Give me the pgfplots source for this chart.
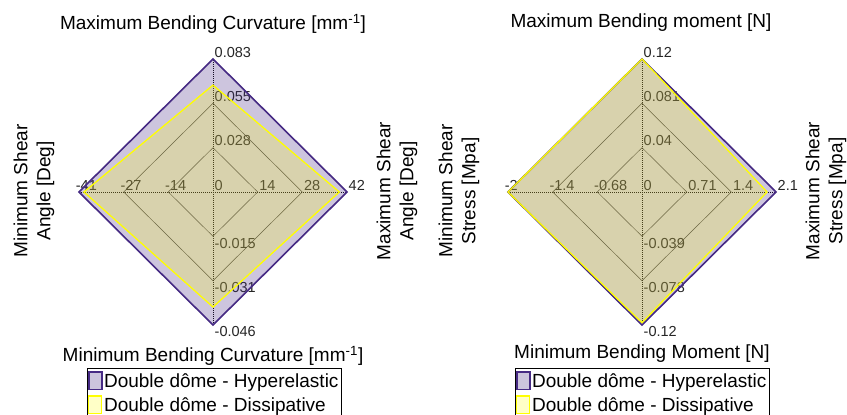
\documentclass[border=0pt]{standalone}
\usepackage{fontspec}
\setmainfont{Liberation Sans}
\usepackage{pgfplots}
\pgfplotsset{compat=1.18}
\usepackage{pgfplotstable}

\definecolor{hyp}{RGB}{70,42,132}
\definecolor{dis}{RGB}{255,255,0}

% Bending curvature / shear angle chart: direction, value, axis limit
\pgfplotstableread{
dx dy val lim
0 1 0.083 0.083
1 0 42 42
0 -1 -0.046 -0.046
-1 0 -41 -41
0 1 0.083 0.083
}\curvHyp
\pgfplotstableread{
dx dy val lim
0 1 0.0667 0.083
1 0 39.6 42
0 -1 -0.0398 -0.046
-1 0 -39.5 -41
0 1 0.0667 0.083
}\curvDis
% Bending moment / shear stress chart
\pgfplotstableread{
dx dy val lim
0 1 0.12 0.12
1 0 2.1 2.1
0 -1 -0.12 -0.12
-1 0 -2 -2
0 1 0.12 0.12
}\momHyp
\pgfplotstableread{
dx dy val lim
0 1 0.12 0.12
1 0 1.96 2.1
0 -1 -0.118 -0.12
-1 0 -2 -2
0 1 0.12 0.12
}\momDis

\newcommand{\tickfont}{\fontsize{14.5}{17}\selectfont}
\newcommand{\labfont}{\fontsize{19}{23}\selectfont}

\tikzset{
  ring/.style={black!75, line width=0.5pt},
  spoke/.style={black, line width=0.8pt, dash pattern=on 1pt off 1pt},
  tl/.style={font=\tickfont, text=black!85, inner sep=1.5pt},
}
\pgfplotsset{
  radar/.style={
    anchor=center, x=134pt, y=133pt,
    xmin=-1.25, xmax=1.25, ymin=-1.25, ymax=1.25,
    hide axis, clip=false,
    legend cell align=left,
    legend image code/.code={\draw[##1] (0pt,-8pt) rectangle (13pt,9.5pt);},
    legend style={anchor=north, draw=black, line width=0.8pt, font=\labfont,
      inner xsep=1pt, inner ysep=3pt, row sep=5pt,
      nodes={inner xsep=1.5pt, inner ysep=0pt}},
  },
  hypstyle/.style={draw=hyp, line width=1.6pt, fill=hyp, fill opacity=0.27, draw opacity=1},
  disstyle/.style={draw=dis, line width=1.3pt, fill=dis, fill opacity=0.22, draw opacity=1},
}

\begin{document}
\begin{tikzpicture}
\useasboundingbox (0,0) rectangle (847pt,415pt);

% ---------------- left chart ----------------
\begin{axis}[radar, at={(213pt,223pt)}, legend style={at={(0.503,-0.029)}}]
  \pgfplotsinvokeforeach{0.3333,0.6667,1}{
    \draw[ring] (axis cs:0,#1) -- (axis cs:#1,0) -- (axis cs:0,-#1) -- (axis cs:-#1,0) -- cycle;
  }
  \draw[spoke] (axis cs:-1,0) -- (axis cs:1,0);
  \draw[spoke] (axis cs:0,-1) -- (axis cs:0,1);
  \node[tl, anchor=south west] at (axis cs:0,0.3333) {0.028};
  \node[tl, anchor=south west] at (axis cs:0,0.6667) {0.055};
  \node[tl, anchor=south west] at (axis cs:0,1) {0.083};
  \node[tl, anchor=north west] at (axis cs:0,-0.3333) {-0.015};
  \node[tl, anchor=north west] at (axis cs:0,-0.6667) {-0.031};
  \node[tl, anchor=north west] at (axis cs:0,-1) {-0.046};
  \node[tl, anchor=south west] at (axis cs:0,0) {0};
  \node[tl, anchor=south west] at (axis cs:0.3333,0) {14};
  \node[tl, anchor=south west] at (axis cs:0.6667,0) {28};
  \node[tl, anchor=south west] at (axis cs:1,0) {42};
  \node[tl, anchor=south west] at (axis cs:-0.3333,0) {\llap{-}14};
  \node[tl, anchor=south west] at (axis cs:-0.6667,0) {\llap{-}27};
  \node[tl, anchor=south west] at (axis cs:-1,0) {\llap{-}41};
  \addplot[hypstyle] table[x expr=\thisrow{dx}*\thisrow{val}/\thisrow{lim}, y expr=\thisrow{dy}*\thisrow{val}/\thisrow{lim}] {\curvHyp} -- cycle;
  \addlegendentry{Double dôme - Hyperelastic}
  \addplot[disstyle] table[x expr=\thisrow{dx}*\thisrow{val}/\thisrow{lim}, y expr=\thisrow{dy}*\thisrow{val}/\thisrow{lim}] {\curvDis} -- cycle;
  \addlegendentry{Double dôme - Dissipative}
\end{axis}

% ---------------- right chart ----------------
\begin{axis}[radar, at={(642pt,223pt)}, legend style={at={(0.5,-0.029)}}]
  \pgfplotsinvokeforeach{0.3333,0.6667,1}{
    \draw[ring] (axis cs:0,#1) -- (axis cs:#1,0) -- (axis cs:0,-#1) -- (axis cs:-#1,0) -- cycle;
  }
  \draw[spoke] (axis cs:-1,0) -- (axis cs:1,0);
  \draw[spoke] (axis cs:0,-1) -- (axis cs:0,1);
  \node[tl, anchor=south west] at (axis cs:0,0.3333) {0.04};
  \node[tl, anchor=south west] at (axis cs:0,0.6667) {0.081};
  \node[tl, anchor=south west] at (axis cs:0,1) {0.12};
  \node[tl, anchor=north west] at (axis cs:0,-0.3333) {-0.039};
  \node[tl, anchor=north west] at (axis cs:0,-0.6667) {-0.078};
  \node[tl, anchor=north west] at (axis cs:0,-1) {-0.12};
  \node[tl, anchor=south west] at (axis cs:0,0) {0};
  \node[tl, anchor=south west] at (axis cs:0.3333,0) {0.71};
  \node[tl, anchor=south west] at (axis cs:0.6667,0) {1.4};
  \node[tl, anchor=south west] at (axis cs:1,0) {2.1};
  \node[tl, anchor=south west] at (axis cs:-0.3333,0) {\llap{-}0.68};
  \node[tl, anchor=south west] at (axis cs:-0.6667,0) {\llap{-}1.4};
  \node[tl, anchor=south west] at (axis cs:-1,0) {\llap{-}2};
  \addplot[hypstyle] table[x expr=\thisrow{dx}*\thisrow{val}/\thisrow{lim}, y expr=\thisrow{dy}*\thisrow{val}/\thisrow{lim}] {\momHyp} -- cycle;
  \addlegendentry{Double dôme - Hyperelastic}
  \addplot[disstyle] table[x expr=\thisrow{dx}*\thisrow{val}/\thisrow{lim}, y expr=\thisrow{dy}*\thisrow{val}/\thisrow{lim}] {\momDis} -- cycle;
  \addlegendentry{Double dôme - Dissipative}
\end{axis}

% ---------------- titles and side labels ----------------
\node[font=\labfont, anchor=base] at (213pt,385pt) {Maximum Bending Curvature [mm\textsuperscript{-1}]};
\node[font=\labfont, anchor=base] at (213pt,53pt) {Minimum Bending Curvature [mm\textsuperscript{-1}]};
\node[font=\labfont, rotate=90, align=center] at (34pt,224pt) {Minimum Shear\\Angle [Deg]};
\node[font=\labfont, rotate=90, align=center] at (397pt,224pt) {Maximum Shear\\Angle [Deg]};

\node[font=\labfont, anchor=base] at (641pt,387pt) {Maximum Bending moment [N]};
\node[font=\labfont, anchor=base] at (642pt,56pt) {Minimum Bending Moment [N]};
\node[font=\labfont, rotate=90, align=center] at (459pt,224pt) {Minimum Shear\\Stress [Mpa]};
\node[font=\labfont, rotate=90, align=center] at (826pt,224pt) {Maximum Shear\\Stress [Mpa]};
\end{tikzpicture}
\end{document}
